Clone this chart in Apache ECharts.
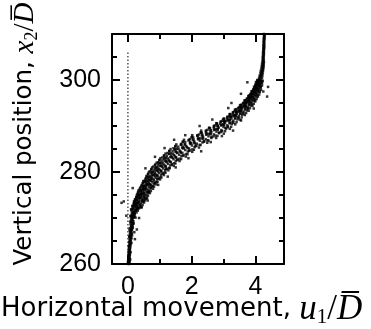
<!DOCTYPE html>
<html><head><meta charset="utf-8">
<script src="https://cdn.jsdelivr.net/npm/echarts@6/dist/echarts.min.js"></script>
<style>html,body{margin:0;padding:0;background:#fff}#c{width:371px;height:329px}</style>
</head><body><div id="c"></div>
<script>
// Tick values
const xMajorTicks = [0, 2, 4];
const xMinorTicks = [1, 3];
const yMajorTicks = [260, 280, 300];
const yMinorTicks = [265, 270, 275, 285, 290, 295, 305];
// Reference dotted line at u1 = 0
const zeroLine = [[0, 260], [0, 306]];
// Particle positions [u1/D, x2/D]
const stemPoints = [[0.02,260.0],[0.05,260.3],[0.03,260.6],[0.04,260.9],[0.01,261.2],[0.05,261.5],[0.03,261.8],[0.06,262.1],[0.04,262.4],[0.02,262.7],[0.06,263.0],[0.05,263.3],[0.03,263.6],[0.08,263.9],[0.05,264.2],[0.07,264.5],[0.04,264.8],[0.09,265.1],[0.06,265.4],[0.10,265.7],[0.05,266.0],[0.08,266.3],[0.12,266.6],[0.07,266.9],[0.10,267.2],[0.13,267.5],[0.06,267.8],[0.11,268.1],[0.15,268.4],[0.08,268.7],[0.13,269.0],[0.17,269.3],[0.10,269.6],[0.14,269.9],[0.19,270.2],[0.09,270.5],[0.16,270.8],[0.21,271.1],[0.12,271.4],[0.25,271.7],[0.00,260.5],[0.07,261.0],[0.01,262.0],[0.08,262.6],[0.03,264.0],[0.11,264.6],[0.04,265.9],[0.13,266.2],[0.05,267.4],[0.15,267.9],[0.07,269.2],[0.18,268.8],[0.20,266.9],
  [0.04,260.15],[0.02,260.45],[0.06,260.75],[0.03,261.05],[0.05,261.35],[0.02,261.65],[0.06,261.95],[0.04,262.25],[0.07,262.55],[0.03,262.85],[0.05,263.15],[0.07,263.45],[0.04,263.75],[0.06,264.05],[0.09,264.35],[0.05,264.65],[0.08,264.95],[0.06,265.25],[0.11,265.55],[0.07,265.85],[0.09,266.15],[0.06,266.45],[0.11,266.75],[0.08,267.05],[0.12,267.35],[0.09,267.65],[0.14,267.95],[0.10,268.25],[0.12,268.55],[0.16,268.85],[0.11,269.15],[0.15,269.45],[0.12,269.75],[0.17,270.05],[0.13,270.35]];
const lowerBand = [[0.15,272.0],[0.28,272.0],[0.35,272.1],[0.10,271.9],[0.22,272.5],[0.31,272.4],[0.14,272.6],[0.40,272.5],[0.18,273.0],[0.29,273.1],[0.38,272.9],[0.24,273.0],[0.25,273.5],[0.33,273.4],[0.44,273.6],[0.20,273.5],[0.27,274.0],[0.36,274.1],[0.46,273.9],[0.22,274.0],[0.52,274.2],[0.30,274.5],[0.41,274.4],[0.50,274.6],[0.36,274.5],[0.35,275.0],[0.44,275.1],[0.58,274.9],[0.28,275.0],[0.49,275.2],[0.39,275.5],[0.51,275.4],[0.62,275.6],[0.45,275.5],[0.40,276.0],[0.55,276.1],[0.66,275.9],[0.33,276.0],[0.48,276.2],[0.47,276.5],[0.58,276.4],[0.72,276.6],[0.52,276.5],[0.50,277.0],[0.62,277.1],[0.78,276.9],[0.42,277.0],[0.68,277.2],[0.56,277.5],[0.70,277.4],[0.84,277.6],[0.62,277.5],[0.55,278.0],[0.73,278.1],[0.90,277.9],[0.48,278.0],[0.66,278.2],[0.63,278.5],[0.80,278.4],[0.95,278.6],[0.72,278.5],[0.66,279.0],[0.85,279.1],[1.02,278.9],[0.58,279.0],[0.92,279.2],[0.74,279.5],[0.90,279.4],[1.10,279.6],[0.82,279.5],[0.76,280.0],[0.95,280.1],[1.15,279.9],[0.66,280.0],[1.04,280.2]];
const middleBand = [[0.82,280.5],[1.02,280.4],[1.20,280.6],[0.92,280.5],[0.88,281.0],[1.08,281.1],[1.30,280.9],[0.76,281.0],[1.18,281.2],[0.95,281.5],[1.16,281.4],[1.38,281.6],[1.05,281.5],[1.00,282.0],[1.22,282.1],[1.45,281.9],[0.90,282.0],[1.32,282.2],[1.08,282.5],[1.30,282.4],[1.55,282.6],[1.20,282.5],[1.15,283.0],[1.40,283.1],[1.62,282.9],[1.02,283.0],[1.50,283.2],[1.22,283.5],[1.48,283.4],[1.72,283.6],[1.36,283.5],[1.30,284.0],[1.55,284.1],[1.82,283.9],[1.18,284.0],[1.66,284.2],[1.40,284.5],[1.65,284.4],[1.92,284.6],[1.50,284.5],[1.48,285.0],[1.74,285.1],[2.02,284.9],[1.34,285.0],[1.88,285.2],[1.58,285.5],[1.85,285.4],[2.12,285.6],[1.72,285.5],[1.68,286.0],[1.96,286.1],[2.25,285.9],[1.52,286.0],[2.10,286.2],[1.80,286.5],[2.08,286.4],[2.38,286.6],[1.95,286.5],[1.92,287.0],[2.20,287.1],[2.50,286.9],[1.76,287.0],[2.35,287.2],[2.05,287.5],[2.34,287.4],[2.62,287.6],[2.20,287.5],[2.18,288.0],[2.46,288.1],[2.75,287.9],[2.02,288.0],[2.60,288.2],[2.32,288.5],[2.58,288.4],[2.86,288.6],[2.45,288.5],[2.45,289.0],[2.70,289.1],[2.96,288.9],[2.30,289.0],[2.82,289.2],[2.58,289.5],[2.82,289.4],[3.06,289.6],[2.70,289.5],[2.70,290.0],[2.92,290.1],[3.14,289.9],[2.82,290.0],[3.02,290.2]];
const upperBand = [[2.80,290.5],[3.00,290.4],[3.20,290.6],[2.90,290.5],[2.92,291.0],[3.10,291.1],[3.28,290.9],[3.02,291.0],[3.18,291.2],[3.02,291.5],[3.20,291.4],[3.36,291.6],[3.12,291.5],[3.12,292.0],[3.30,292.1],[3.45,291.9],[3.22,292.0],[3.38,292.2],[3.22,292.5],[3.38,292.4],[3.52,292.6],[3.30,292.5],[3.30,293.0],[3.46,293.1],[3.60,292.9],[3.40,293.0],[3.54,293.2],[3.40,293.5],[3.55,293.4],[3.68,293.6],[3.48,293.5],[3.48,294.0],[3.62,294.1],[3.75,293.9],[3.56,294.0],[3.70,294.2],[3.55,294.5],[3.68,294.4],[3.80,294.6],[3.64,294.5],[3.62,295.0],[3.74,295.1],[3.86,294.9],[3.70,295.0],[3.82,295.2],[3.68,295.5],[3.80,295.4],[3.90,295.6],[3.76,295.5],[3.74,296.0],[3.85,296.1],[3.95,295.9],[3.80,296.0],[3.92,296.2],[3.80,296.5],[3.90,296.4],[3.99,296.6],[3.86,296.5],[3.85,297.0],[3.94,297.1],[4.03,296.9],[3.90,297.0],[4.00,297.2],[3.90,297.5],[3.98,297.4],[4.06,297.6],[3.95,297.5],[3.94,298.0],[4.02,298.1],[4.09,297.9],[3.98,298.0],[4.06,298.2],[3.98,298.5],[4.05,298.4],[4.12,298.6],[4.02,298.5],[4.00,299.0],[4.08,299.1],[4.14,298.9],[4.05,299.0],[4.11,299.2],[4.04,299.5],[4.10,299.4],[4.16,299.6],[4.08,299.5],[4.06,300.0],[4.12,300.1],[4.18,299.9],[4.10,300.0],[4.15,300.2]];
const scatterCloud = [
  [0.10,270.12],[0.21,270.33],[0.15,270.51],[0.24,270.08],[0.12,270.77],[0.19,270.64],[0.08,270.41],[0.17,270.92],[0.22,270.85],[0.13,270.27],
  [0.14,271.05],[0.27,271.22],[0.19,271.48],[0.31,271.61],[0.11,271.73],[0.23,271.88],[0.17,271.31],[0.29,271.95],[0.20,271.14],[0.25,271.57],
  [0.17,272.04],[0.33,272.18],[0.24,272.37],[0.39,272.45],[0.15,272.62],[0.29,272.71],[0.36,272.89],[0.21,272.93],[0.42,272.28],[0.27,272.55],[0.31,272.12],
  [0.22,273.07],[0.40,273.16],[0.31,273.29],[0.47,273.42],[0.19,273.58],[0.36,273.66],[0.44,273.81],[0.27,273.94],[0.33,273.48],[0.50,273.71],[0.25,273.33],
  [0.29,274.03],[0.46,274.14],[0.37,274.31],[0.55,274.39],[0.26,274.52],[0.43,274.63],[0.51,274.78],[0.33,274.87],[0.40,274.95],[0.58,274.22],[0.35,274.69],
  [0.36,275.06],[0.55,275.11],[0.44,275.27],[0.62,275.38],[0.31,275.49],[0.50,275.57],[0.58,275.74],[0.40,275.83],[0.47,275.96],[0.66,275.62],[0.42,275.19],
  [0.41,276.04],[0.63,276.15],[0.52,276.29],[0.71,276.41],[0.38,276.53],[0.57,276.66],[0.67,276.72],[0.47,276.88],[0.55,276.97],[0.75,276.84],[0.49,276.36],
  [0.50,277.02],[0.72,277.13],[0.61,277.31],[0.81,277.39],[0.46,277.56],[0.66,277.63],[0.77,277.79],[0.55,277.86],[0.64,277.94],[0.86,277.71],[0.58,277.22],
  [0.59,278.07],[0.82,278.16],[0.70,278.28],[0.92,278.43],[0.55,278.51],[0.76,278.64],[0.87,278.76],[0.64,278.89],[0.73,278.97],[0.97,278.58],[0.68,278.35],
  [0.68,279.04],[0.93,279.17],[0.80,279.32],[1.04,279.41],[0.63,279.55],[0.86,279.62],[0.98,279.78],[0.74,279.84],[0.84,279.95],[1.09,279.69],[0.77,279.26],
  [0.78,280.06],[1.05,280.13],[0.92,280.29],[1.17,280.44],[0.73,280.53],[0.98,280.61],[1.11,280.77],[0.86,280.88],[0.95,280.96],[1.23,280.71],[0.88,280.38],
  [0.90,281.03],[1.19,281.16],[1.05,281.27],[1.33,281.42],[0.85,281.51],[1.12,281.64],[1.26,281.76],[0.98,281.87],[1.09,281.98],[1.38,281.69],[1.01,281.33],
  [1.04,282.05],[1.35,282.18],[1.20,282.31],[1.50,282.43],[0.99,282.56],[1.28,282.62],[1.43,282.79],[1.13,282.86],[1.25,282.97],[1.56,282.72],[1.16,282.36],
  [1.19,283.07],[1.52,283.14],[1.37,283.28],[1.68,283.41],[1.14,283.53],[1.45,283.67],[1.61,283.74],[1.29,283.89],[1.41,283.96],[1.75,283.61],[1.33,283.22],
  [1.35,284.04],[1.71,284.17],[1.55,284.26],[1.88,284.44],[1.30,284.52],[1.63,284.63],[1.80,284.78],[1.46,284.86],[1.59,284.97],[1.94,284.69],[1.50,284.33],
  [1.54,285.06],[1.92,285.13],[1.75,285.29],[2.09,285.38],[1.49,285.54],[1.83,285.62],[2.01,285.77],[1.66,285.89],[1.80,285.95],[2.15,285.71],[1.70,285.24],
  [1.78,286.03],[2.16,286.16],[1.99,286.27],[2.34,286.42],[1.72,286.55],[2.08,286.64],[2.26,286.79],[1.90,286.86],[2.04,286.97],[2.40,286.68],[1.95,286.31],
  [2.06,287.05],[2.44,287.14],[2.27,287.31],[2.62,287.39],[2.00,287.52],[2.36,287.66],[2.53,287.76],[2.18,287.88],[2.32,287.94],[2.68,287.72],[2.22,287.25],
  [2.34,288.04],[2.70,288.17],[2.54,288.28],[2.86,288.43],[2.29,288.51],[2.62,288.63],[2.78,288.77],[2.45,288.89],[2.59,288.96],[2.92,288.69],[2.48,288.34],
  [2.60,289.06],[2.93,289.12],[2.78,289.29],[3.08,289.41],[2.55,289.55],[2.85,289.64],[3.00,289.78],[2.70,289.85],[2.82,289.97],[3.13,289.71],[2.73,289.23],
  [2.82,290.03],[3.12,290.15],[2.99,290.31],[3.26,290.42],[2.78,290.54],[3.05,290.66],[3.19,290.74],[2.91,290.88],[3.02,290.95],[3.31,290.67],[2.94,290.26],
  [3.04,291.06],[3.31,291.13],[3.19,291.28],[3.44,291.43],[2.99,291.52],[3.25,291.61],[3.37,291.79],[3.12,291.87],[3.22,291.96],[3.48,291.69],[3.15,291.35],
  [3.23,292.04],[3.48,292.18],[3.37,292.27],[3.59,292.41],[3.19,292.56],[3.42,292.63],[3.53,292.76],[3.30,292.89],[3.40,292.97],[3.63,292.71],[3.33,292.32],
  [3.40,293.05],[3.63,293.16],[3.53,293.33],[3.73,293.39],[3.36,293.54],[3.57,293.65],[3.67,293.79],[3.46,293.86],[3.55,293.94],[3.77,293.72],[3.49,293.24],
  [3.55,294.07],[3.76,294.14],[3.67,294.29],[3.85,294.44],[3.52,294.51],[3.71,294.62],[3.80,294.78],[3.61,294.87],[3.69,294.96],[3.89,294.68],[3.63,294.35],
  [3.69,295.04],[3.88,295.17],[3.80,295.26],[3.96,295.41],[3.66,295.57],[3.83,295.63],[3.91,295.76],[3.74,295.88],[3.81,295.95],[3.99,295.71],[3.76,295.32],
  [3.81,296.06],[3.97,296.13],[3.90,296.31],[4.04,296.39],[3.78,296.52],[3.93,296.66],[4.00,296.77],[3.85,296.85],[3.92,296.98],[4.07,296.72],[3.87,296.24],
  [3.90,297.03],[4.05,297.16],[3.98,297.28],[4.11,297.43],[3.88,297.55],[4.01,297.62],[4.08,297.79],[3.94,297.87],[4.00,297.96],[4.13,297.69],[3.95,297.34],
  [3.98,298.05],[4.11,298.14],[4.05,298.31],[4.16,298.42],[3.96,298.53],[4.07,298.65],[4.13,298.76],[4.01,298.88],[4.06,298.95],[4.18,298.71],[4.02,298.27],
  [4.04,299.06],[4.15,299.17],[4.10,299.29],[4.19,299.41],[4.02,299.56],[4.12,299.62],[4.17,299.77],[4.07,299.84],[4.11,299.96],[4.21,299.69],[4.08,299.33]];
const edgeCloud = [
  [0.15,272.15],[0.43,272.35],[0.19,272.62],[0.46,272.81],[0.19,273.22],[0.51,273.38],[0.22,273.66],[0.54,273.87],
  [0.23,274.11],[0.60,274.33],[0.27,274.59],[0.63,274.84],[0.30,275.17],[0.69,275.41],[0.33,275.64],[0.72,275.88],
  [0.36,276.13],[0.79,276.36],[0.40,276.61],[0.82,276.83],[0.44,277.18],[0.89,277.32],[0.48,277.68],[0.93,277.86],
  [0.52,278.12],[1.01,278.39],[0.57,278.63],[1.05,278.82],[0.59,279.16],[1.13,279.34],[0.64,279.61],[1.18,279.87],
  [0.69,280.14],[1.27,280.37],[0.74,280.65],[1.31,280.83],[0.80,281.19],[1.44,281.33],[0.86,281.62],[1.49,281.85],
  [0.94,282.12],[1.62,282.38],[0.99,282.64],[1.67,282.81],[1.08,283.17],[1.82,283.35],[1.13,283.59],[1.87,283.86],
  [1.24,284.13],[2.02,284.39],[1.30,284.61],[2.07,284.84],[1.43,285.18],[2.23,285.32],[1.49,285.66],[2.28,285.87],
  [1.67,286.11],[2.49,286.36],[1.73,286.62],[2.53,286.83],[1.95,287.16],[2.77,287.39],[2.01,287.63],[2.81,287.85],
  [2.23,288.14],[3.01,288.33],[2.29,288.62],[3.05,288.86],[2.50,289.17],[3.20,289.38],[2.55,289.64],[3.24,289.82],
  [2.73,290.12],[3.37,290.37],[2.78,290.61],[3.41,290.85],[2.97,291.15],[3.53,291.34],[3.02,291.63],[3.57,291.86],
  [3.17,292.13],[3.67,292.39],[3.21,292.61],[3.71,292.83],[3.35,293.18],[3.79,293.31],[3.39,293.65],[3.83,293.87],
  [3.51,294.12],[3.91,294.37],[3.55,294.63],[3.95,294.82],[3.66,295.16],[4.00,295.34],[3.70,295.62],[4.04,295.86],
  [3.78,296.14],[4.08,296.38],[3.81,296.64],[4.12,296.83],[3.88,297.17],[4.14,297.33],[3.91,297.61],[4.18,297.85],
  [3.97,298.13],[4.17,298.36],[4.00,298.62],[4.21,298.84],[4.04,299.15],[4.21,299.38],[4.06,299.64],[4.23,299.82]];
const topStem = [[4.12,300.5],[4.17,300.6],[4.21,300.4],[4.14,301.0],[4.19,301.1],[4.22,300.9],[4.16,301.5],[4.20,301.6],[4.23,301.4],[4.17,302.0],[4.21,302.1],[4.24,301.9],[4.19,302.5],[4.22,302.6],[4.25,302.4],[4.20,303.0],[4.23,303.1],[4.26,302.9],[4.21,303.5],[4.24,303.6],[4.26,303.4],[4.22,304.0],[4.25,304.1],[4.27,303.9],[4.23,304.5],[4.26,304.6],[4.23,305.0],[4.26,305.1],[4.24,305.5],[4.27,305.6],[4.24,306.0],[4.27,306.1],[4.25,306.5],[4.27,306.6],[4.25,307.0],[4.28,307.1],[4.25,307.5],[4.28,307.6],[4.26,308.0],[4.28,308.1],[4.26,308.5],[4.28,308.6],[4.26,309.0],[4.29,309.1],[4.27,309.5],[4.29,309.6],[4.27,310.0],[4.29,309.9],[4.15,300.8],[4.19,301.3],[4.21,301.8],[4.23,302.3],[4.24,302.8],[4.25,303.3],[4.25,303.8],[4.26,304.3],[4.25,304.8],[4.26,305.3],[4.26,305.8],[4.26,306.3],[4.27,306.8],[4.27,307.3],[4.27,307.8],[4.27,308.3],[4.28,308.8],[4.28,309.3],[4.28,309.8]];
const outliers = [[-0.20,273.3],[-0.13,273.6],[0.62,273.8],[0.15,276.5],[0.95,277.2],[1.25,279.0],[0.55,280.8],[1.50,281.0],[0.85,283.3],[1.90,283.0],[1.15,285.2],[2.30,284.5],[1.45,287.0],[2.60,286.5],[1.80,288.0],[2.95,287.8],[2.25,290.0],[3.30,289.0],[2.65,291.4],[3.15,293.9],[3.55,291.2],[3.25,295.0],[3.95,293.8],[3.55,297.0],[4.37,296.4],[4.40,298.5],[3.75,299.5],[4.25,297.5],[0.28,267.5],[0.22,265.4],[-0.05,270.5],[0.35,270.0]];

const FONT = 'Liberation Sans';
const TFONT = 'DejaVu Sans';
const MFONT = 'Liberation Serif';
const axisLineStyle = {color:'#000', width:2};
function xAx(pos, ticks, len, showLine, labels) {
  return {type:'value', position:pos, min:-0.5, max:4.9,
    axisLine:{show:showLine, onZero:false, lineStyle:axisLineStyle},
    axisTick:{show:true, inside:true, length:len, customValues:ticks, lineStyle:{color:'#000', width:2}},
    axisLabel:{show:labels, customValues:ticks, color:'#000', fontSize:25, fontFamily:FONT, margin:11},
    splitLine:{show:false}};
}
function yAx(pos, ticks, len, showLine, labels) {
  return {type:'value', position:pos, min:260, max:310,
    axisLine:{show:showLine, onZero:false, lineStyle:axisLineStyle},
    axisTick:{show:true, inside:true, length:len, customValues:ticks, lineStyle:{color:'#000', width:2}},
    axisLabel:{show:labels, customValues:ticks, color:'#000', fontSize:25, fontFamily:FONT, margin:11},
    splitLine:{show:false}};
}
function richSet(n, m, s) {
  return {
    n:{fontFamily:TFONT, fontSize:n, fill:'#000'},
    i:{fontFamily:MFONT, fontStyle:'italic', fontSize:m, fill:'#000'},
    s:{fontFamily:MFONT, fontSize:s, fill:'#000', padding:[Math.round(s*0.75),0,0,0]},
    d:{fontFamily:MFONT, fontSize:m, fill:'#000'}
  };
}
const chart = echarts.init(document.getElementById('c'));
chart.setOption({
  animation:false,
  grid:{left:112, right:87, top:34, bottom:65},
  xAxis:[xAx('bottom', xMajorTicks, 8, true, true), xAx('bottom', xMinorTicks, 5, false, false),
         xAx('top', xMajorTicks, 8, true, false), xAx('top', xMinorTicks, 5, false, false)],
  yAxis:[yAx('left', yMajorTicks, 8, true, true), yAx('left', yMinorTicks, 5, false, false),
         yAx('right', yMajorTicks, 8, true, false), yAx('right', yMinorTicks, 5, false, false)],
  graphic:[
    {type:'text', left:1, top:292, style:{text:'{n|Horizontal movement, }{i|u}{s|1}{d|/}{i|D\u0305}', rich:richSet(26, 35, 21)}},
    {type:'text', x:25, y:134, rotation:Math.PI/2, style:{text:'{n|Vertical position, }{i|x}{s|2}{d|/}{i|D\u0305}', rich:richSet(24.5, 29, 18), align:'center', verticalAlign:'middle'}}
  ],
  series:[
    {type:'line', data:zeroLine, showSymbol:false, lineStyle:{type:[1.5,2], width:1, color:'#000'}, silent:true},
    {type:'scatter', data:[].concat(stemPoints, lowerBand, middleBand, upperBand, scatterCloud, edgeCloud, topStem, outliers),
     symbol:'rect', symbolSize:2.5, itemStyle:{color:'#000'}, silent:true}
  ]
});
</script></body></html>
